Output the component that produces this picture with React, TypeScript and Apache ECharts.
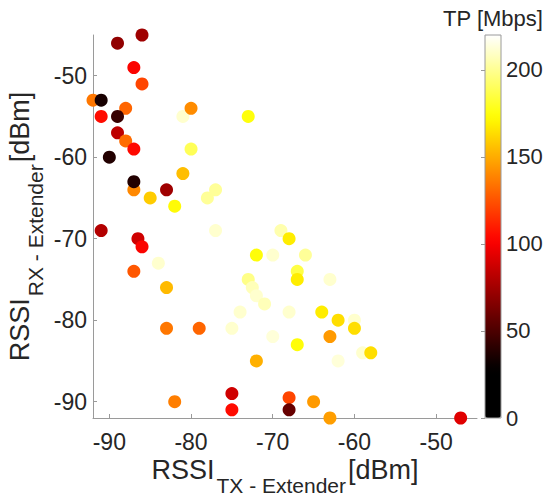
import React, { useEffect, useRef } from "react";
import * as echarts from "echarts";

// RSSI TX - Extender [dBm]
const rssiTx = [
  -92, -91, -86, -89, -87, -86, -88, -91, -89, -81, -80, -73, -89, -88, -87, -80, -90,
  -87, -87, -81, -83, -85, -82, -78, -77, -77, -91, -86.5, -86, -87, -84, -83,
  -72, -73, -72.5, -72, -71, -69, -68, -70, -66, -67, -67, -63, -68, -64, -60, -62,
  -60, -70, -63, -67, -59, -58, -72, -62, -68, -68, -65, -63, -47, -83, -79, -75,
  -74, -75, -75, -82,
];
// RSSI RX - Extender [dBm]
const rssiRx = [
  -53, -53, -45, -46, -49, -51, -54, -55, -55, -55, -54, -55, -57, -58, -59, -59, -60,
  -64, -63, -62, -64, -65, -66, -65, -64, -69, -69, -70, -71, -74, -73, -76,
  -72, -75, -76, -77, -78, -69, -70, -72, -72, -74, -75, -75, -79, -79, -80, -80,
  -81, -82, -82, -83, -84, -84, -85, -85, -89.5, -91, -90, -92, -92, -81, -81, -81,
  -79, -89, -91, -90,
];
// Throughput [Mbps]
const tp = [
  135, 35, 74, 70, 102, 121, 130, 105, 44, 211, 141, 175, 83, 132, 104, 189, 38,
  140, 38, 155, 74, 159, 173, 201, 201, 211, 80, 88, 102, 126, 211, 154,
  174, 198, 207, 211, 207, 205, 168, 211, 201, 186, 168, 211, 211, 168, 211, 164,
  164, 213, 145, 174, 211, 164, 151, 213, 121, 58, 145, 146, 93, 135, 130, 211,
  211, 88, 105, 137,
];

const xTicks = [-90, -80, -70, -60, -50];
const yTicks = [-90, -80, -70, -60, -50];
const cbTicks = [0, 50, 100, 150, 200];

const X_MIN = -92, X_MAX = -45, Y_MIN = -92, Y_MAX = -45;
const TP_MAX = 220;

// "hot" colormap stops (value -> rgb)
const hotStops: [number, number[]][] = [
  [0, [0, 0, 0]],
  [28, [0, 0, 0]],
  [102, [255, 0, 0]],
  [173, [255, 255, 0]],
  [220, [255, 255, 255]],
];

function hotColor(v: number): string {
  for (let i = 1; i < hotStops.length; i++) {
    const [v1, c1] = hotStops[i];
    const [v0, c0] = hotStops[i - 1];
    if (v <= v1) {
      const t = v1 === v0 ? 0 : (v - v0) / (v1 - v0);
      const c = c0.map((a, k) => Math.round(a + (c1[k] - a) * t));
      return `rgb(${c[0]},${c[1]},${c[2]})`;
    }
  }
  return "rgb(255,255,255)";
}

const FONT = "Liberation Sans, Arial, sans-serif";
const TXT = "#262626";
const AX = "#9a9a9a";

const nameRich = {
  a: { fontSize: 27, fontFamily: FONT, color: TXT, lineHeight: 27, verticalAlign: "top" },
  s: {
    fontSize: 21,
    fontFamily: FONT,
    color: TXT,
    lineHeight: 21,
    verticalAlign: "top",
    padding: [19, 2, 0, 2],
  },
};

export default function App() {
  const ref = useRef<HTMLDivElement>(null);
  useEffect(() => {
    if (!ref.current) return;
    const chart = echarts.init(ref.current, undefined, { renderer: "svg" });
    const colors: string[] = [];
    for (let i = 0; i <= 44; i++) colors.push(hotColor((i / 44) * TP_MAX));
    const data = rssiTx.map((x, i) => [x, rssiRx[i], tp[i]]);

    chart.setOption({
      animation: false,
      backgroundColor: "#ffffff",
      grid: [
        {
          left: 93,
          top: 35,
          width: 384,
          height: 383,
          containLabel: false,
          outerBoundsMode: "none",
        },
        {
          left: 485,
          top: 35,
          width: 16,
          height: 383,
          show: true,
          borderColor: AX,
          borderWidth: 1,
          backgroundColor: "transparent",
          z: 10,
          containLabel: false,
          outerBoundsMode: "none",
        },
      ],
      xAxis: [
        {
          gridIndex: 0,
          type: "value",
          min: X_MIN,
          max: X_MAX,
          splitLine: { show: false },
          axisLine: { lineStyle: { color: AX, width: 1 } },
          axisTick: { inside: true, length: 4, lineStyle: { color: AX }, customValues: xTicks },
          axisLabel: {
            margin: 12,
            fontSize: 23,
            fontFamily: FONT,
            color: TXT,
            customValues: xTicks,
          },
          name: "{a|RSSI}{s|TX - Extender}{a|[dBm]}",
          nameLocation: "middle",
          nameGap: 38,
          nameMoveOverlap: false,
          nameTextStyle: { rich: nameRich },
        },
        {
          gridIndex: 1,
          type: "value",
          min: 0,
          max: 1,
          show: false,
        },
      ],
      yAxis: [
        {
          gridIndex: 0,
          type: "value",
          min: Y_MIN,
          max: Y_MAX,
          splitLine: { show: false },
          axisLine: { lineStyle: { color: AX, width: 1 } },
          axisTick: { inside: true, length: 4, lineStyle: { color: AX }, customValues: yTicks },
          axisLabel: {
            margin: 6,
            fontSize: 23,
            fontFamily: FONT,
            color: TXT,
            customValues: yTicks,
          },
          name: "{a|RSSI}{s|RX - Extender}{a|[dBm]}",
          nameLocation: "middle",
          nameRotate: 90,
          nameGap: 60,
          nameMoveOverlap: false,
          nameTextStyle: { rich: nameRich },
        },
        {
          gridIndex: 1,
          type: "value",
          position: "right",
          min: 0,
          max: TP_MAX,
          splitLine: { show: false },
          axisLine: { show: false },
          axisTick: { inside: true, length: 4, lineStyle: { color: AX }, customValues: cbTicks },
          axisLabel: {
            margin: 5,
            fontSize: 22,
            fontFamily: FONT,
            color: TXT,
            customValues: cbTicks,
          },
          z: 10,
        },
      ],
      visualMap: {
        type: "continuous",
        min: 0,
        max: TP_MAX,
        dimension: 2,
        seriesIndex: 0,
        calculable: false,
        showLabel: false,
        itemWidth: 16,
        itemHeight: 383,
        left: 485,
        top: 35,
        padding: 0,
        inRange: { color: colors },
      },
      graphic: [
        {
          type: "text",
          x: 493,
          y: 18,
          style: {
            text: "TP [Mbps]",
            fontSize: 22,
            fontFamily: FONT,
            fill: TXT,
            align: "center",
            verticalAlign: "middle",
          },
        },
      ],
      series: [
        {
          type: "scatter",
          xAxisIndex: 0,
          yAxisIndex: 0,
          data,
          symbol: "circle",
          symbolSize: 13,
          clip: false,
          itemStyle: { opacity: 1 },
        },
      ],
    });
    return () => chart.dispose();
  }, []);
  return (
    <div
      ref={ref}
      style={{ position: "fixed", left: 0, top: 0, width: 544, height: 500 }}
    />
  );
}
